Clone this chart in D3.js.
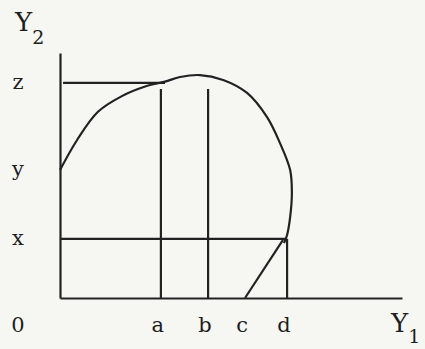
<!DOCTYPE html>
<html>
<head>
    <meta charset="utf-8">
    <title>Y1 / Y2 curve</title>
    <script src="https://cdn.jsdelivr.net/npm/d3@7"></script>
    <style>
        body { margin: 0; background: #f6f6f3; }
        svg { display: block; }
        .lbl { font-family: "DejaVu Serif", "Liberation Serif", serif; fill: #1e1e1e; }
        .axis path { stroke: #222; stroke-width: 2.2; }
        .ln { stroke: #222; stroke-width: 2.2; fill: none; }
    </style>
</head>
<body>
<div id="chart"></div>
<script>
    // Y1 positions of the marked points and their labels
    const y1Ticks = [29.5, 43.3, 54.1, 66.4];
    const y1Labels = ["a", "b", "c", "d"];
    // Y2 positions of the marked levels
    const y2Ticks = [24.1, 52.2, 87.8];
    const y2Labels = ["x", "y", "z"];
    // the curve
    const curveY1 = [0, 5.0, 11.1, 18.1, 24.9, 30.7, 35.1, 40.9, 47.7, 54.7, 60.5, 64.3, 67.3, 67.8, 67.3, 66.4, 65.5];
    const curveY2 = [52.2, 64.5, 76.0, 82.4, 86.3, 88.3, 90.2, 91.0, 89.0, 83.7, 73.9, 63.3, 52.2, 42.9, 33.1, 25.7, 22.4];
    const verticalTop = 85.3;   // a and b lines stop just under z
    const cEnd = [65.2, 23.7];  // where the line from c meets the curve

    const W = 425, H = 349;
    const svg = d3.select("#chart").append("svg").attr("width", W).attr("height", H);

    const x = d3.scaleLinear().domain([0, 100]).range([60, 402]);
    const y = d3.scaleLinear().domain([0, 100]).range([298, 53]);

    // axes (only the domain lines, labels drawn below)
    svg.append("g").attr("class", "axis")
        .attr("transform", `translate(0,${y(0)})`)
        .call(d3.axisBottom(x).tickValues([]).tickSizeOuter(0));
    svg.append("g").attr("class", "axis")
        .attr("transform", `translate(${x(0)},0)`)
        .call(d3.axisLeft(y).tickValues([]).tickSizeOuter(0));

    // guide lines
    const g = svg.append("g");
    // z horizontal
    g.append("line").attr("class", "ln")
        .attr("x1", x(0.9)).attr("x2", x(curveY1[5])).attr("y1", y(y2Ticks[2])).attr("y2", y(y2Ticks[2]));
    // x horizontal to d
    g.append("line").attr("class", "ln")
        .attr("x1", x(0)).attr("x2", x(y1Ticks[3])).attr("y1", y(y2Ticks[0])).attr("y2", y(y2Ticks[0]));
    // a, b verticals
    [y1Ticks[0], y1Ticks[1]].forEach(v => {
        g.append("line").attr("class", "ln")
            .attr("x1", x(v)).attr("x2", x(v)).attr("y1", y(0)).attr("y2", y(verticalTop));
    });
    // d vertical
    g.append("line").attr("class", "ln")
        .attr("x1", x(y1Ticks[3])).attr("x2", x(y1Ticks[3])).attr("y1", y(0)).attr("y2", y(y2Ticks[0]));
    // c slanted line
    g.append("line").attr("class", "ln")
        .attr("x1", x(y1Ticks[2])).attr("x2", x(cEnd[0])).attr("y1", y(0)).attr("y2", y(cEnd[1]));

    // the curve
    const pts = curveY1.map((v, i) => [v, curveY2[i]]);
    svg.append("path").attr("class", "ln")
        .attr("stroke-width", 2.5)
        .attr("d", d3.line().x(d => x(d[0])).y(d => y(d[1])).curve(d3.curveCatmullRom.alpha(0.5))(pts));

    // labels
    const lab = svg.append("g").attr("class", "lbl").attr("font-size", 21);
    y1Ticks.forEach((v, i) => {
        lab.append("text").attr("x", x(v) - 3).attr("y", 332)
            .attr("text-anchor", "middle").text(y1Labels[i]);
    });
    y2Ticks.forEach((v, i) => {
        lab.append("text").attr("x", 18).attr("y", y(v) + 6)
            .attr("text-anchor", "middle").text(y2Labels[i]);
    });
    lab.append("text").attr("x", 18).attr("y", 332).attr("text-anchor", "middle").text("0");

    // axis titles
    const t1 = lab.append("text").attr("x", 391).attr("y", 332);
    t1.append("tspan").attr("font-size", 26).text("Y");
    t1.append("tspan").attr("font-size", 19).attr("dy", 11).text("1");
    const t2 = lab.append("text").attr("x", 15).attr("y", 31);
    t2.append("tspan").attr("font-size", 26).text("Y");
    t2.append("tspan").attr("font-size", 19).attr("dy", 13).text("2");
</script>
</body>
</html>
